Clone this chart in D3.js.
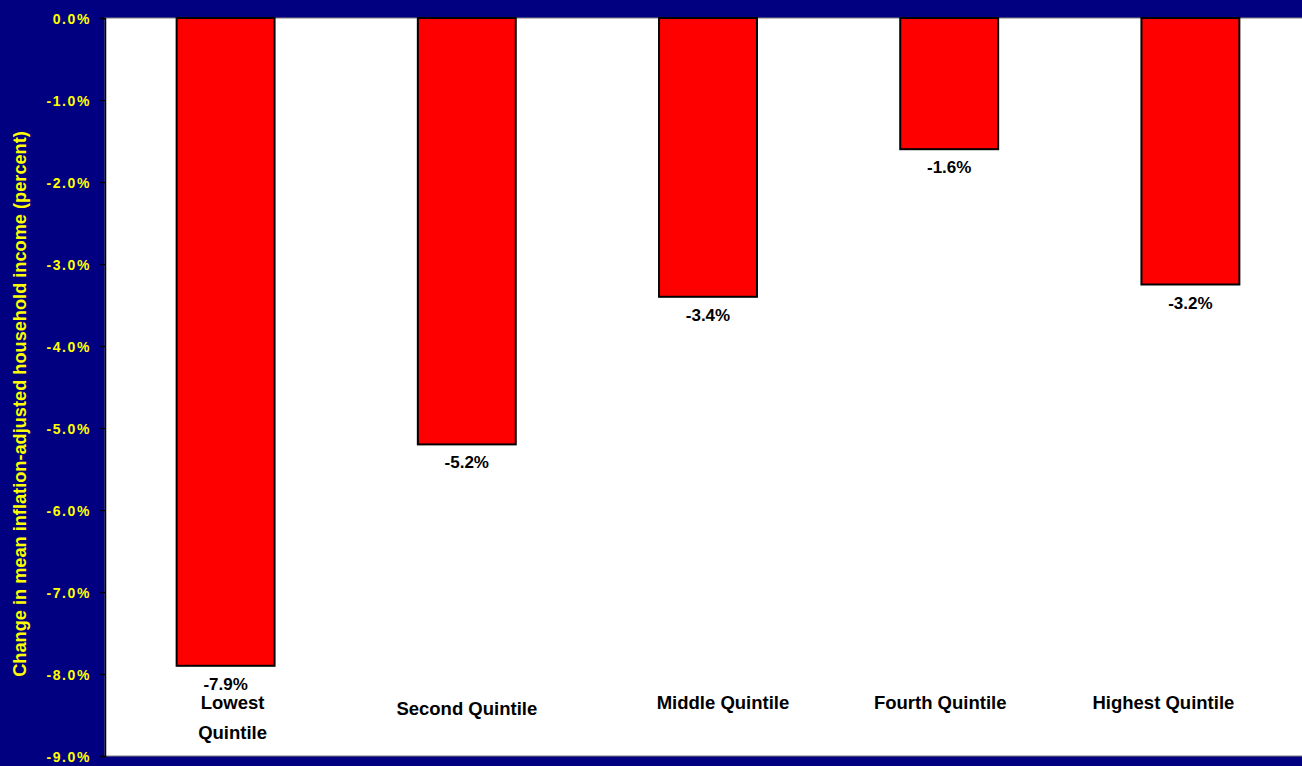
<!DOCTYPE html>
<html><head><meta charset="utf-8">
<script src="https://cdn.jsdelivr.net/npm/d3@7/dist/d3.min.js"></script>
<style>
html,body{margin:0;padding:0;background:#000080;}
svg{display:block;}
text{font-family:"Liberation Sans",Arial,sans-serif;font-weight:bold;}
</style></head>
<body><svg id="chart" width="1302" height="766"></svg>
<script>
const categories = ["Lowest\nQuintile", "Second Quintile", "Middle Quintile", "Fourth Quintile", "Highest Quintile"];
const values = [-7.9, -5.2, -3.4, -1.6, -3.25];
const valueLabels = ["-7.9%", "-5.2%", "-3.4%", "-1.6%", "-3.2%"];
const tickValues = [0, -1, -2, -3, -4, -5, -6, -7, -8, -9];
const tickLabels = ["0.0%", "-1.0%", "-2.0%", "-3.0%", "-4.0%", "-5.0%", "-6.0%", "-7.0%", "-8.0%", "-9.0%"];
const yTitle = "Change in mean inflation-adjusted household income (percent)";

const W = 1302, H = 766;
const plot = {left: 105, top: 18, right: 1311, bottom: 756};
// label placement nudges (layout only), as in the original slide
const labelDX = [7, 0, 15, -9, -27];
const labelDY = [0, 6, 0, 0, 0];

const svg = d3.select("#chart");

svg.append("rect").attr("x",0).attr("y",0).attr("width",W).attr("height",H).attr("fill","#000080");
svg.append("rect").attr("x",plot.left).attr("y",plot.top)
  .attr("width",plot.right-plot.left).attr("height",plot.bottom-plot.top)
  .attr("fill","#ffffff").attr("stroke","#808080").attr("stroke-width",1);

const x = d3.scaleBand().domain(categories).range([plot.left, plot.right]).paddingInner(0.594).paddingOuter(0.297);
const y = d3.scaleLinear().domain([0, -9]).range([plot.top, plot.bottom]);

// bars
svg.append("g").selectAll("rect").data(values).join("rect")
  .attr("x",(d,i)=>x(categories[i]))
  .attr("y",y(0))
  .attr("width",x.bandwidth())
  .attr("height",d=>y(d)-y(0))
  .attr("fill","#ff0000").attr("stroke","#000").attr("stroke-width",2);

// value labels
svg.append("g").selectAll("text").data(values).join("text")
  .attr("x",(d,i)=>x(categories[i])+x.bandwidth()/2)
  .attr("y",d=>y(d)+24)
  .attr("text-anchor","middle").attr("font-size",17).attr("fill","#000")
  .text((d,i)=>valueLabels[i]);

// y axis
const yAxis = d3.axisLeft(y).tickValues(tickValues).tickSize(5).tickPadding(9)
  .tickFormat((d,i)=>tickLabels[i]);
const ga = svg.append("g").attr("transform",`translate(${plot.left},0)`).call(yAxis);
ga.select(".domain").attr("stroke","#000").attr("stroke-width",1.5);
ga.selectAll(".tick line").attr("stroke","#000").attr("stroke-width",1.2);
ga.selectAll(".tick text").attr("fill","#ffff00").attr("font-size",14)
  .attr("font-family","'Liberation Sans',Arial,sans-serif").attr("font-weight","bold")
  .attr("letter-spacing","1.6px").attr("dy","0.36em");

// category labels
const cg = svg.append("g");
categories.forEach((c,i)=>{
  const lines = c.split("\n");
  const t = cg.append("text").attr("text-anchor","middle").attr("font-size",18.5).attr("fill","#000");
  lines.forEach((l,j)=>{
    t.append("tspan").attr("x",x(c)+x.bandwidth()/2 + labelDX[i]).attr("y",709 + labelDY[i] + j*30).text(l);
  });
});

// y title
svg.append("text")
  .attr("transform",`translate(26,${(plot.top+plot.bottom)/2+17}) rotate(-90)`)
  .attr("text-anchor","middle").attr("font-size",18.2).attr("fill","#ffff00")
  .text(yTitle);
</script></body></html>
